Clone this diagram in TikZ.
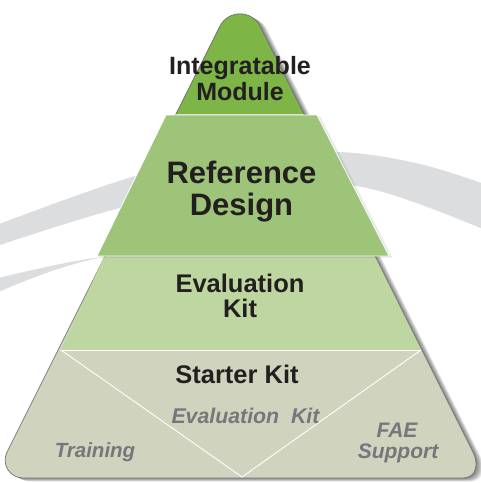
\documentclass[tikz,border=0pt]{standalone}
\usepackage{fontspec}
\setmainfont{Liberation Sans}
\definecolor{topg}{HTML}{7DB547}
\definecolor{refg}{HTML}{9EC47A}
\definecolor{evalg}{HTML}{BED7A1}
\definecolor{startg}{HTML}{D0D3BD}
\definecolor{swooshc}{HTML}{DCDDDF}
\definecolor{labgray}{HTML}{76777A}
\definecolor{txt}{HTML}{231F20}
\begin{document}
\begin{tikzpicture}[x=1pt,y=-1pt,
  tiertext/.style={text=txt, inner sep=0pt, anchor=base},
  subtext/.style={text=labgray, inner sep=0pt, anchor=base},
  sepline/.style={draw=white, line width=0.9pt}]
\useasboundingbox (0,0) rectangle (481,483);
\def\mainpath{(240,478) -- (23,478) .. controls (9.7,478) and (1.05,464) .. (7,452.1)
  -- (219.9,26.2) .. controls (228.2,9.7) and (251.8,9.7) .. (260.1,26.2)
  -- (473,452.1) .. controls (478.95,464) and (476.3,478) .. (463,478) -- cycle}
% background swooshes
\begin{scope}
\clip (0,0) rectangle (481,483);
\fill[swooshc] plot[smooth, tension=0.6] coordinates {(-6,226) (135,176) (240,155) (340,152) (420,164) (490,186)}
  -- plot[smooth, tension=0.6] coordinates {(490,232) (367,188) (250,182) (120,208) (-6,247)} -- cycle;
\fill[swooshc] (-6,279) .. controls (40,268) and (80,259) .. (104,257)
  .. controls (70,263) and (30,278) .. (-6,294) -- cycle;
\end{scope}
% shadow of the pyramid
\foreach \i in {1,...,8}{
  \fill[black, opacity=0.075, shift={(\i*0.9,\i*0.45)}] \mainpath;
}
% pyramid body (starter kit colour)
\fill[startg] \mainpath;
% top tier
\begin{scope}
\clip (0,-20) rectangle (481,113);
\fill[topg] \mainpath;
\end{scope}
\draw[black!55, line width=0.7pt] \mainpath;
% evaluation kit tier
\fill[evalg] (104,257) -- (375,257) -- (421,350) -- (61,350) -- cycle;
\draw[sepline] (61,350) -- (421,350);
\draw[sepline] (61,350) -- (242,477) -- (421,350);
% reference design tier shadow and body
\foreach \i in {1,...,4}{
  \fill[black, opacity=0.035, shift={(\i*1.0,\i*0.5)}] (166,115) -- (317,115) -- (389,256) -- (97,256) -- cycle;
}
\fill[refg, draw=white, line width=0.8pt] (166,115) -- (317,115) -- (389,256) -- (97,256) -- cycle;
% texts
\node[tiertext, font=\bfseries\fontsize{25}{27}\selectfont] (im1) at (240,74) {Integratable};
\node[tiertext, font=\bfseries\fontsize{25}{27}\selectfont] (im2) at (240,100) {Module};
\node[tiertext, font=\bfseries\fontsize{31}{33}\selectfont] (rd1) at (241.5,183) {Reference};
\node[tiertext, font=\bfseries\fontsize{31}{33}\selectfont] (rd2) at (241.5,215) {Design};
\node[tiertext, font=\bfseries\fontsize{25.5}{27}\selectfont] (ek1) at (240,292) {Evaluation};
\node[tiertext, font=\bfseries\fontsize{25.5}{27}\selectfont] (ek2) at (240,317) {Kit};
\node[tiertext, font=\bfseries\fontsize{25.5}{27}\selectfont] (sk) at (237,383) {Starter Kit};
\node[subtext, font=\bfseries\itshape\fontsize{21.3}{23}\selectfont] (sek) at (245.5,423) {Evaluation\ \ Kit};
\node[subtext, font=\bfseries\itshape\fontsize{20.5}{23}\selectfont] (tr) at (95,457) {Training};
\node[subtext, font=\bfseries\itshape\fontsize{21}{23}\selectfont] (fae1) at (397,437) {FAE};
\node[subtext, font=\bfseries\itshape\fontsize{21}{23}\selectfont] (fae2) at (398,458) {Support};
\end{tikzpicture}
\end{document}
